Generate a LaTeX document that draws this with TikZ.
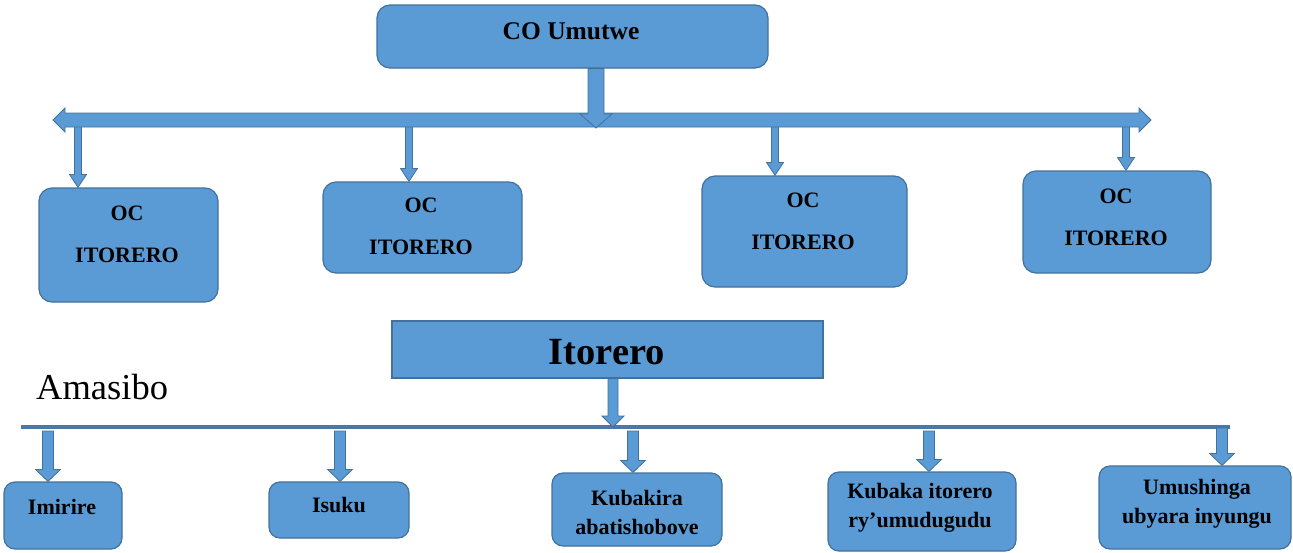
\documentclass[tikz,border=0pt]{standalone}
\usepackage{fontspec}
\setmainfont{Liberation Serif}
\usetikzlibrary{calc}
\definecolor{boxblue}{HTML}{5B9BD5}
\definecolor{boxedge}{HTML}{41719C}
\definecolor{linecol}{HTML}{4A78A8}
\newcommand\vblock[6][]{%
  \filldraw[barr,#1] let \p1=(#2), \p2=(#3) in
    (\x1-#4,\y1) -- (\x1-#4,\y2+#6) -- (\x1-#5,\y2+#6) -- (\x1,\y2)
    -- (\x1+#5,\y2+#6) -- (\x1+#4,\y2+#6) -- (\x1+#4,\y1) -- cycle;}
\begin{document}
\begin{tikzpicture}[x=1pt,y=-1pt,
  rbox/.style={draw=boxedge, fill=boxblue, line width=1.2pt, rounded corners=13pt, inner sep=0pt},
  sbox/.style={draw=boxedge, fill=boxblue, line width=1.2pt, inner sep=0pt},
  lab/.style={font=\bfseries\fontsize{22}{42}\selectfont, align=center, text=black, inner sep=0pt},
  blab/.style={font=\bfseries\fontsize{22}{29}\selectfont, align=center, text=black, inner sep=0pt},
  barr/.style={fill=boxblue, draw=boxedge, line width=0.8pt, line join=miter}]
\useasboundingbox (0,0) rectangle (1293,552);

% ---- top level
\node[rbox, minimum width=391pt, minimum height=63pt] (co) at (572.5,36.5) {};
\node[lab, font=\bfseries\fontsize{25.5}{30}\selectfont] (cot) at (571,31) {CO Umutwe};

\node[rbox, minimum width=179pt, minimum height=114pt] (oc1) at (128.5,245) {};
\node[lab] (oc1t) at (127,234) {OC\\ITORERO};
\node[rbox, minimum width=199pt, minimum height=91pt] (oc2) at (422.5,227.5) {};
\node[lab] (oc2t) at (421,226) {OC\\ITORERO};
\node[rbox, minimum width=205pt, minimum height=111pt] (oc3) at (804.5,231.5) {};
\node[lab] (oc3t) at (803,221) {OC\\ITORERO};
\node[rbox, minimum width=188pt, minimum height=102pt] (oc4) at (1117,222) {};
\node[lab] (oc4t) at (1116,217) {OC\\ITORERO};

\coordinate (barL) at (53,120);
\coordinate (barR) at (1151,120);
\coordinate (s1) at (78,124);
\coordinate (s2) at (409,124);
\coordinate (s3) at (775,124);
\coordinate (s4) at (1126,124);

\vblock{s1}{oc1.north}{3.5pt}{8.5pt}{13pt}
\vblock{s2}{oc2.north}{3.5pt}{8.5pt}{13pt}
\vblock{s3}{oc3.north}{3.5pt}{8.5pt}{13pt}
\vblock{s4}{oc4.north}{3.5pt}{8.5pt}{13pt}

\filldraw[barr] (barL) -- ++(12,-12) -- ++(0,5) -- ($(barR)+(-12,-7)$) -- ++(0,-5)
  -- (barR) -- ++(-12,12) -- ++(0,-5) -- ($(barL)+(12,7)$) -- ++(0,5) -- cycle;

\coordinate (cos) at ([xshift=23.5pt]co.south);
\coordinate (cot2) at (596,128);
\vblock{cos}{cot2}{8pt}{16pt}{14pt}

% ---- bottom level
\node[sbox, minimum width=431pt, minimum height=57pt] (it) at (607.5,349.5) {};
\node[font=\bfseries\fontsize{38.5}{44}\selectfont, inner sep=0pt] (itt) at (607,352) {Itorero};
\node[font=\fontsize{36.5}{42}\selectfont, inner sep=0pt, anchor=base west] (ama) at (36,399) {Amasibo};

\coordinate (lineL) at (21,427);
\coordinate (lineR) at (1230,427);
\draw[linecol, line width=3.5pt] (lineL) -- (lineR);

\coordinate (its) at ([xshift=5.5pt]it.south);
\coordinate (ite) at (613,427);
\vblock{its}{ite}{5pt}{11pt}{11pt}

\node[rbox, rounded corners=11pt, minimum width=118pt, minimum height=67pt] (b1) at (63,515.5) {};
\node[blab] (b1t) at (62,507) {Imirire};
\node[rbox, rounded corners=11pt, minimum width=140pt, minimum height=56pt] (b2) at (339,510) {};
\node[blab] (b2t) at (339,505) {Isuku};
\node[rbox, rounded corners=11pt, minimum width=170pt, minimum height=73pt] (b3) at (637,509.5) {};
\node[blab] (b3t) at (637,512) {Kubakira\\abatishobove};
\node[rbox, rounded corners=11pt, minimum width=188pt, minimum height=79pt] (b4) at (922,511.5) {};
\node[blab] (b4t) at (920,507.5) {Kubaka itorero\\ry’umudugudu};
\node[rbox, rounded corners=11pt, minimum width=192pt, minimum height=83pt] (b5) at (1195,507.5) {};
\node[blab] (b5t) at (1197,504) {Umushinga\\ubyara inyungu};

\coordinate (t1) at (48,431);
\coordinate (t2) at (340,431);
\coordinate (t3) at (633,431);
\coordinate (t4) at (929,431);
\coordinate (t5) at (1222,428);
\vblock{t1}{b1.north}{5.5pt}{12.5pt}{12pt}
\vblock{t2}{b2.north}{5.5pt}{12.5pt}{12pt}
\vblock{t3}{b3.north}{5.5pt}{12.5pt}{12pt}
\vblock{t4}{b4.north}{5.5pt}{12.5pt}{12pt}
\vblock{t5}{b5.north}{5.5pt}{12.5pt}{12pt}
\end{tikzpicture}
\end{document}
